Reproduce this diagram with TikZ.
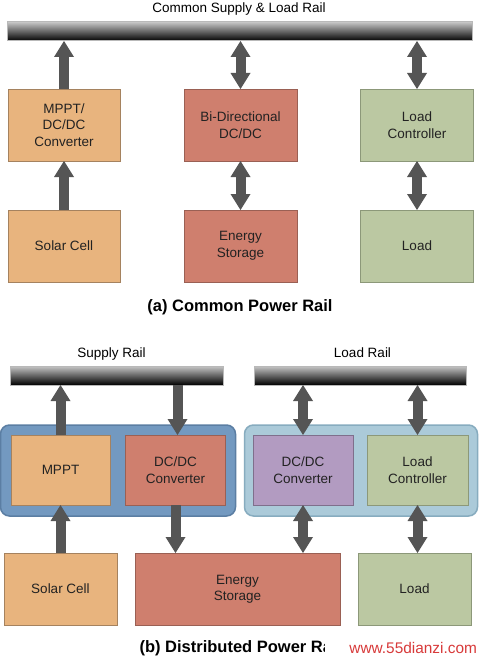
\documentclass[tikz,border=0pt]{standalone}
\usepackage{fontspec}
\setmainfont{Liberation Sans}
\usetikzlibrary{arrows.meta,calc}
\definecolor{orangeF}{HTML}{E8B47E}
\definecolor{orangeD}{HTML}{A5825F}
\definecolor{redF}{HTML}{CF7F6E}
\definecolor{redD}{HTML}{9A6054}
\definecolor{greenF}{HTML}{BBC8A2}
\definecolor{greenD}{HTML}{8C9879}
\definecolor{purpleF}{HTML}{B29BC1}
\definecolor{purpleD}{HTML}{7F6F8C}
\definecolor{grpDF}{HTML}{7399C0}
\definecolor{grpDD}{HTML}{5B7EA3}
\definecolor{grpLF}{HTML}{ABCAD9}
\definecolor{grpLD}{HTML}{87ACBF}
\definecolor{arrowc}{HTML}{555555}
\definecolor{txtc}{HTML}{222222}
\definecolor{wmark}{HTML}{D83A3A}
\begin{document}
\begin{tikzpicture}[x=1pt,y=-1pt,
  boxtxt/.style={font=\fontsize{13.5}{16.5}\selectfont, text=txtc, align=center},
  blockbox/.style={boxtxt, rectangle, inner sep=0pt, outer sep=0pt, line width=1pt},
  obox/.style={blockbox, fill=orangeF, draw=orangeD},
  rbox/.style={blockbox, fill=redF, draw=redD},
  gbox/.style={blockbox, fill=greenF, draw=greenD},
  pbox/.style={blockbox, fill=purpleF, draw=purpleD},
  railbar/.style={rectangle, inner sep=0pt, outer sep=0pt, minimum height=19pt,
    top color=gray!45, middle color=black, bottom color=black, draw=gray!55, line width=1pt},
  grpbox/.style={rectangle, rounded corners=9pt, inner sep=0pt, outer sep=0pt, line width=1.5pt, minimum height=91pt},
  railtitle/.style={font=\fontsize{13.5}{16}\selectfont, text=black, anchor=base},
  captitle/.style={font=\fontsize{16.5}{19}\selectfont\bfseries, text=black},
  blk/.style={draw=arrowc, line width=10pt},
  arrend/.style={blk, -{Triangle[width=20pt,length=16pt,line width=0pt]}},
  dblarr/.style={blk, {Triangle[width=20pt,length=16pt,line width=0pt]}-{Triangle[width=20pt,length=16pt,line width=0pt]}}
]
\useasboundingbox[fill=white] (0,0) rectangle (480,661);

% ---------- (a) Common Power Rail ----------
\node[railtitle] (t1) at (239,12.5) {Common Supply \& Load Rail};
\node[railbar, minimum width=465pt] (rail1) at (239.5,31.5) {};

\node[obox, minimum width=112pt, minimum height=72pt] (a1) at (64,125) {MPPT/\\DC/DC\\Converter};
\node[rbox, minimum width=113pt, minimum height=72pt] (a2) at (240.5,125) {Bi-Directional\\DC/DC};
\node[gbox, minimum width=113pt, minimum height=72pt] (a3) at (417,125) {Load\\Controller};

\node[obox, minimum width=112pt, minimum height=72pt] (b1) at (64,246) {Solar Cell};
\node[rbox, minimum width=113pt, minimum height=72pt] (b2) at (240.5,246) {Energy\\Storage};
\node[gbox, minimum width=113pt, minimum height=72pt] (b3) at (417,246) {Load};

\draw[arrend] (a1.north) -- (a1.north |- rail1.south);
\draw[dblarr] (a2.north) -- (a2.north |- rail1.south);
\draw[dblarr] (a3.north) -- (a3.north |- rail1.south);
\draw[arrend] (b1.north) -- (a1.south);
\draw[dblarr] (b2.north) -- (a2.south);
\draw[dblarr] (b3.north) -- (a3.south);

\node[captitle] (capa) at (240,307) {(a) Common Power Rail};

% ---------- (b) Distributed Power Rail ----------
\node[railtitle] (t2) at (111.5,357.5) {Supply Rail};
\node[railtitle] (t3) at (362.5,357.5) {Load Rail};
\node[railbar, minimum width=213pt] (srail) at (116.5,375.5) {};
\node[railbar, minimum width=212pt] (lrail) at (360,375.5) {};

\node[grpbox, fill=grpDF, draw=grpDD, minimum width=235pt] (gL) at (118,470.5) {};
\node[grpbox, fill=grpLF, draw=grpLD, minimum width=233pt] (gR) at (361,470.5) {};

\node[obox, minimum width=99pt, minimum height=70pt] (m1) at (60.5,470) {MPPT};
\node[rbox, minimum width=100pt, minimum height=70pt] (m2) at (175.5,470) {DC/DC\\Converter};
\node[pbox, minimum width=100pt, minimum height=70pt] (m3) at (303,470) {DC/DC\\Converter};
\node[gbox, minimum width=101pt, minimum height=70pt] (m4) at (417.5,470) {Load\\Controller};

\node[obox, minimum width=113pt, minimum height=72pt] (c1) at (60.5,589) {Solar Cell};
\node[rbox, minimum width=205pt, minimum height=72pt] (c2) at (237.5,589) {Energy\\Storage};
\node[gbox, minimum width=113pt, minimum height=72pt] (c3) at (414.5,589) {Load};

\draw[arrend] (m1.north) -- (m1.north |- srail.south);
\draw[arrend] ($(m2.north |- srail.south)+(2,0)$) coordinate (s2) -- (s2 |- m2.north);
\draw[dblarr] (m3.north) -- (m3.north |- lrail.south);
\draw[dblarr] (m4.north) -- (m4.north |- lrail.south);
\draw[arrend] (c1.north) -- (c1.north |- m1.south);
\draw[arrend] (m2.south) -- (m2.south |- c2.north);
\draw[dblarr] (m3.south) -- (m3.south |- c2.north);
\draw[dblarr] (m4.south) -- (m4.south |- c3.north);

\node[captitle, anchor=west] (capb) at (136,648) {(b) Distributed Power Rail};
\node[fill=white, inner sep=0pt, minimum width=155pt, minimum height=22pt, anchor=west,
      font=\fontsize{15.4}{18}\selectfont, text=wmark] (wm) at (325,648) {\hspace*{21pt}www.55dianzi.com};
\end{tikzpicture}
\end{document}
